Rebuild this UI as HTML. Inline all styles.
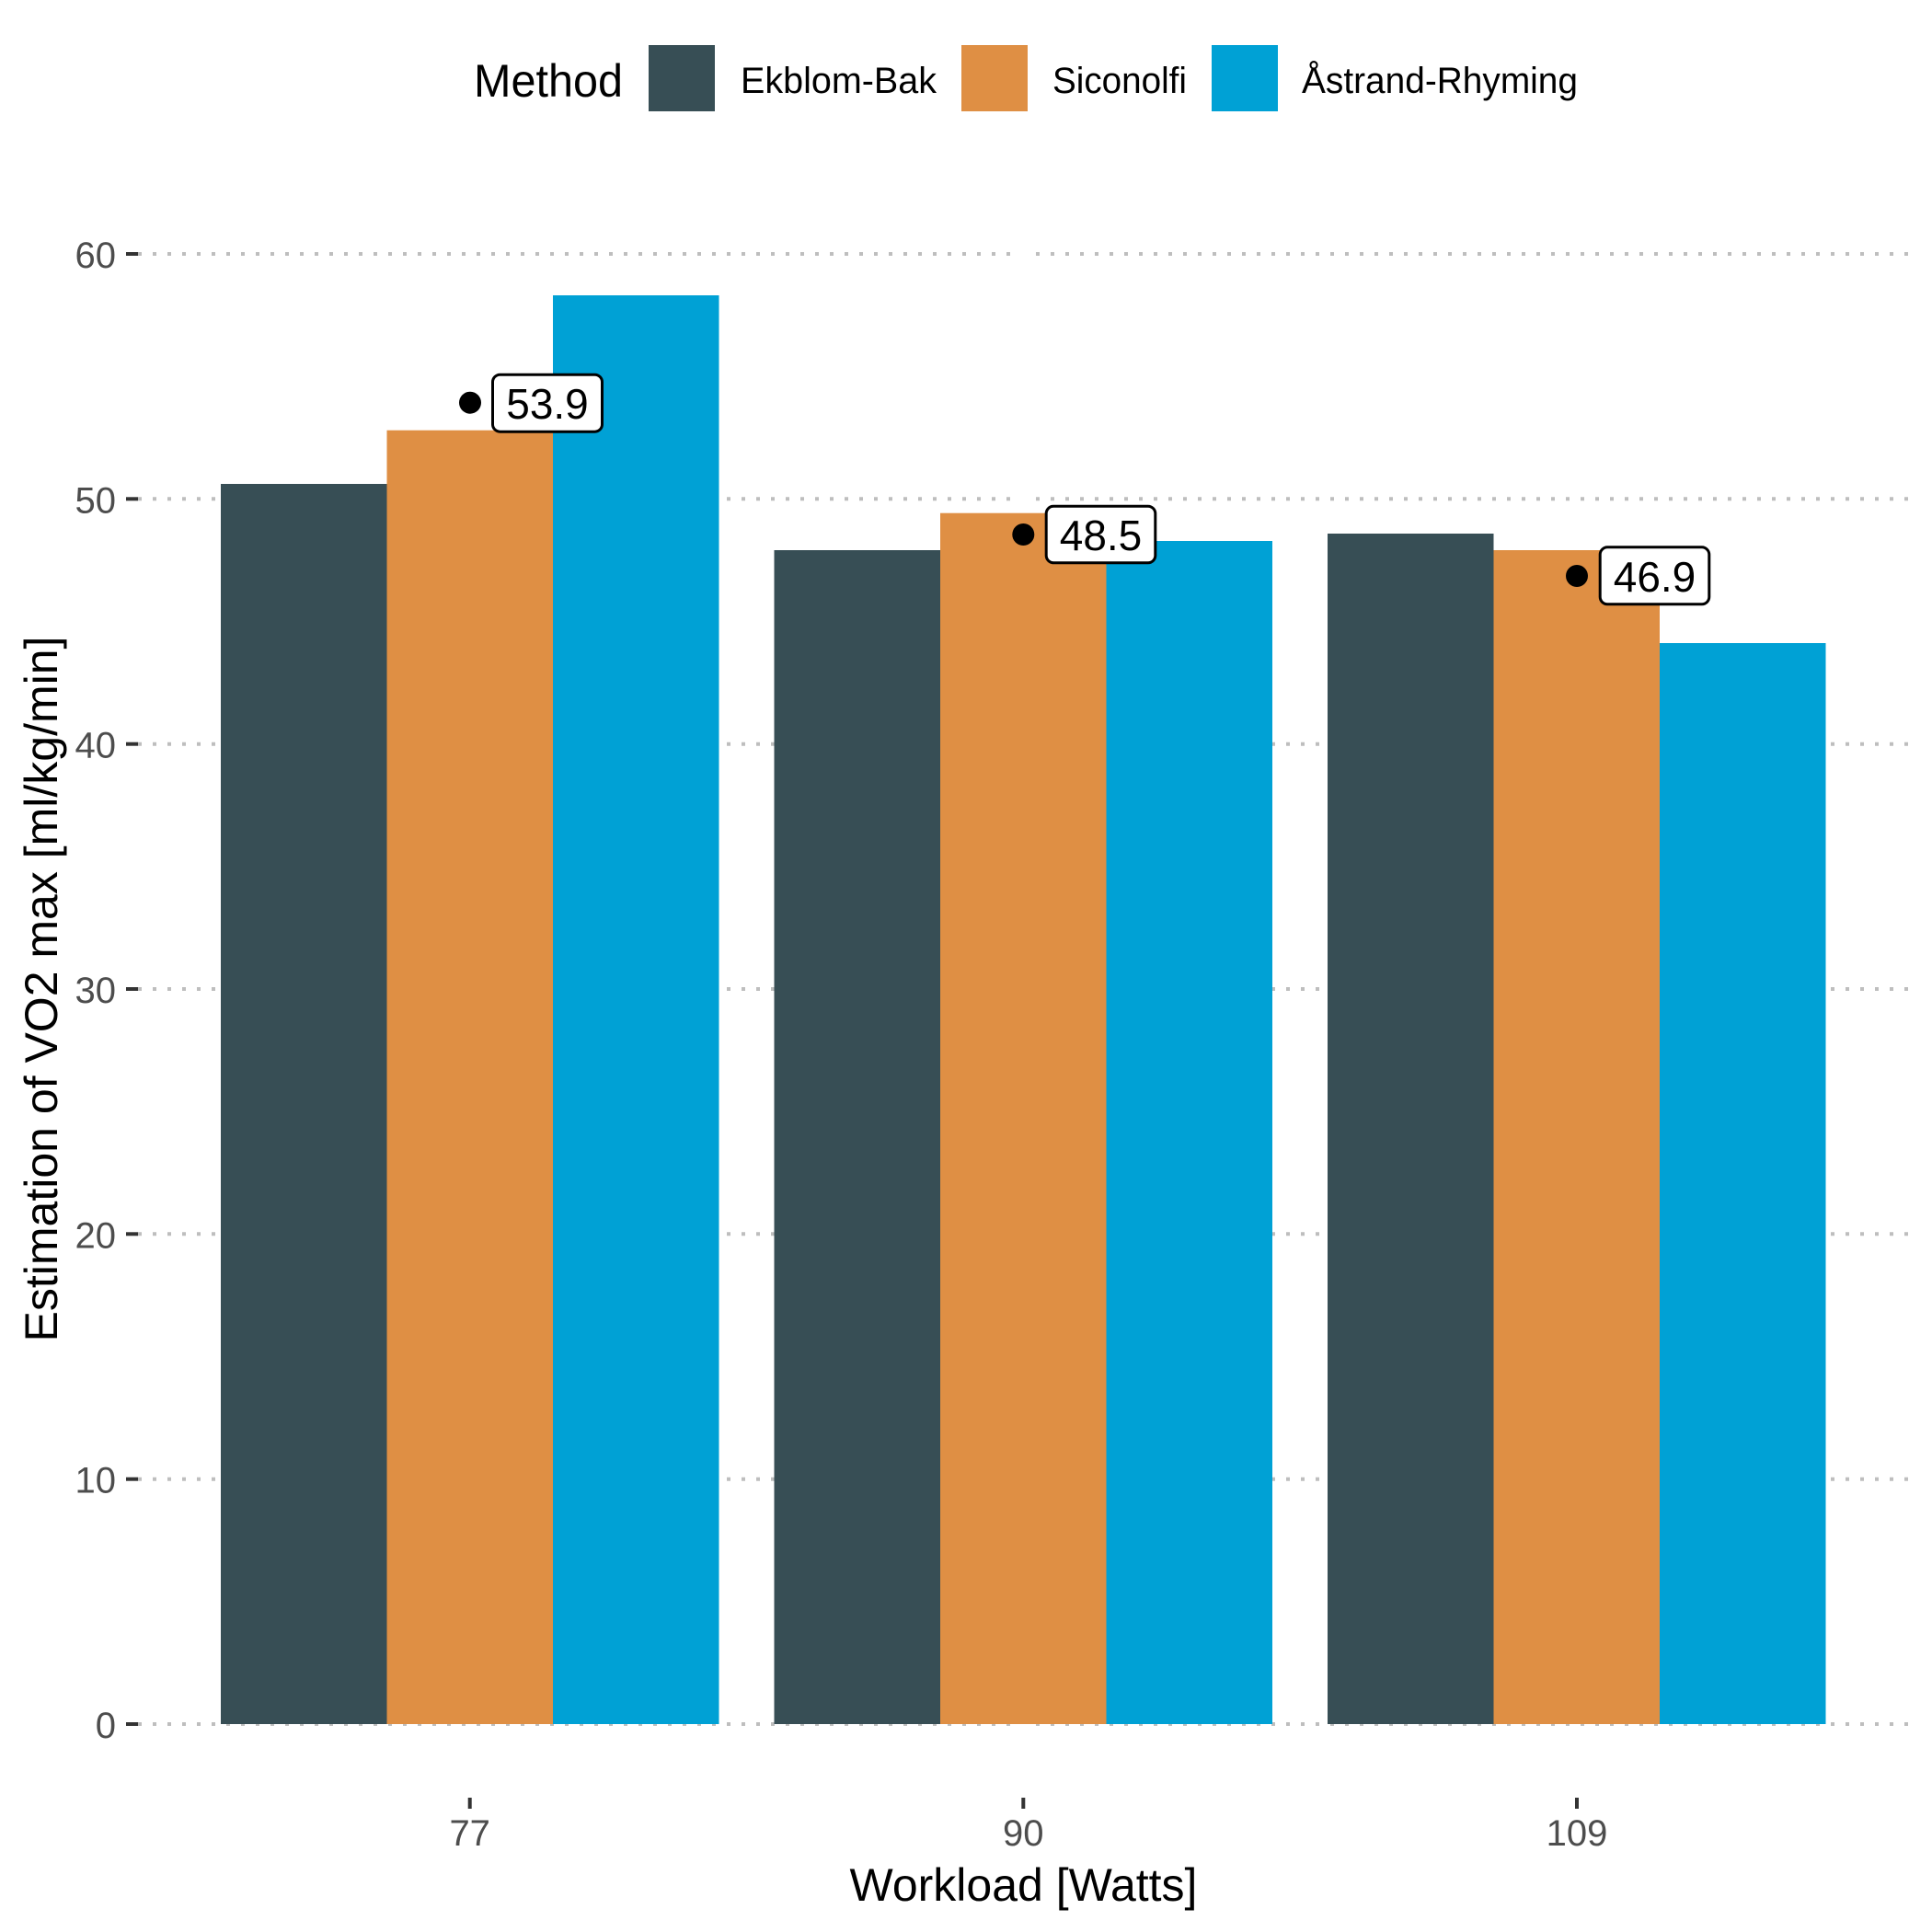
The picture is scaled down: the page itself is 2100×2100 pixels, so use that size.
<!DOCTYPE html>
<html>
<head>
<meta charset="utf-8">
<style>
  html, body { margin: 0; padding: 0; background: #ffffff; }
  svg { display: block; }
  text { font-family: "Liberation Sans", Arial, sans-serif; }
</style>
</head>
<body>
<svg width="2100" height="2100" viewBox="0 0 2100 2100" xmlns="http://www.w3.org/2000/svg">
  <rect x="0" y="0" width="2100" height="2100" fill="#ffffff"/>

  <!-- Legend -->
  <text x="515" y="105" font-size="50" fill="#000000" textLength="162" lengthAdjust="spacingAndGlyphs">Method</text>
  <rect x="705" y="49" width="72" height="72" fill="#374E55"/>
  <text x="805" y="101" font-size="40" fill="#000000" textLength="213" lengthAdjust="spacingAndGlyphs">Ekblom-Bak</text>
  <rect x="1045" y="49" width="72" height="72" fill="#DF8F44"/>
  <text x="1144" y="101" font-size="40" fill="#000000" textLength="146" lengthAdjust="spacingAndGlyphs">Siconolfi</text>
  <rect x="1317" y="49" width="72" height="72" fill="#00A1D5"/>
  <text x="1415" y="101" font-size="40" fill="#000000" textLength="300" lengthAdjust="spacingAndGlyphs">Åstrand-Rhyming</text>

  <!-- Gridlines (dotted) -->
  <g stroke="#bebebe" stroke-width="4" stroke-dasharray="4 12" fill="none">
    <line x1="150" y1="1874" x2="1108" y2="1874"/><line x1="1126" y1="1874" x2="2075" y2="1874"/>
    <line x1="150" y1="1607.7" x2="1108" y2="1607.7"/><line x1="1126" y1="1607.7" x2="2075" y2="1607.7"/>
    <line x1="150" y1="1341.3" x2="1108" y2="1341.3"/><line x1="1126" y1="1341.3" x2="2075" y2="1341.3"/>
    <line x1="150" y1="1075" x2="1108" y2="1075"/><line x1="1126" y1="1075" x2="2075" y2="1075"/>
    <line x1="150" y1="808.7" x2="1108" y2="808.7"/><line x1="1126" y1="808.7" x2="2075" y2="808.7"/>
    <line x1="150" y1="542.3" x2="1108" y2="542.3"/><line x1="1126" y1="542.3" x2="2075" y2="542.3"/>
    <line x1="150" y1="276" x2="1108" y2="276"/><line x1="1126" y1="276" x2="2075" y2="276"/>
  </g>

  <!-- Bars -->
  <g>
    <rect x="240" y="526" width="180.5" height="1348" fill="#374E55"/>
    <rect x="420.5" y="467.7" width="180.5" height="1406.3" fill="#DF8F44"/>
    <rect x="601" y="321" width="180.5" height="1553" fill="#00A1D5"/>

    <rect x="841.5" y="598" width="180.5" height="1276" fill="#374E55"/>
    <rect x="1022" y="557.7" width="180.5" height="1316.3" fill="#DF8F44"/>
    <rect x="1202.5" y="588" width="180.5" height="1286" fill="#00A1D5"/>

    <rect x="1443" y="580" width="180.5" height="1294" fill="#374E55"/>
    <rect x="1623.5" y="598" width="180.5" height="1276" fill="#DF8F44"/>
    <rect x="1804" y="699" width="180.5" height="1175" fill="#00A1D5"/>
  </g>

  <!-- Points -->
  <circle cx="511" cy="437.7" r="12" fill="#000000"/>
  <circle cx="1112.3" cy="581" r="12" fill="#000000"/>
  <circle cx="1714" cy="626" r="12" fill="#000000"/>

  <!-- Labels -->
  <rect x="535.5" y="407.2" width="119" height="62" rx="8" ry="8" fill="#ffffff" stroke="#000000" stroke-width="3"/>
  <text x="595" y="455" font-size="46" fill="#000000" text-anchor="middle">53.9</text>
  <rect x="1137.2" y="550.2" width="118.6" height="61.6" rx="8" ry="8" fill="#ffffff" stroke="#000000" stroke-width="3"/>
  <text x="1196.5" y="598" font-size="46" fill="#000000" text-anchor="middle">48.5</text>
  <rect x="1739.2" y="594.8" width="118.6" height="62" rx="8" ry="8" fill="#ffffff" stroke="#000000" stroke-width="3"/>
  <text x="1798.5" y="643" font-size="46" fill="#000000" text-anchor="middle">46.9</text>

  <!-- Y axis ticks -->
  <g stroke="#333333" stroke-width="4">
    <line x1="137" y1="1874" x2="150" y2="1874"/>
    <line x1="137" y1="1607.7" x2="150" y2="1607.7"/>
    <line x1="137" y1="1341.3" x2="150" y2="1341.3"/>
    <line x1="137" y1="1075" x2="150" y2="1075"/>
    <line x1="137" y1="808.7" x2="150" y2="808.7"/>
    <line x1="137" y1="542.3" x2="150" y2="542.3"/>
    <line x1="137" y1="276" x2="150" y2="276"/>
  </g>
  <g font-size="40" fill="#4d4d4d" text-anchor="end">
    <text x="126" y="1889">0</text>
    <text x="126" y="1622.7">10</text>
    <text x="126" y="1356.3">20</text>
    <text x="126" y="1090">30</text>
    <text x="126" y="823.7">40</text>
    <text x="126" y="557.3">50</text>
    <text x="126" y="291">60</text>
  </g>

  <!-- X axis ticks -->
  <g stroke="#333333" stroke-width="4">
    <line x1="510.7" y1="1954" x2="510.7" y2="1966"/>
    <line x1="1112.3" y1="1954" x2="1112.3" y2="1966"/>
    <line x1="1714" y1="1954" x2="1714" y2="1966"/>
  </g>
  <g font-size="40" fill="#4d4d4d" text-anchor="middle">
    <text x="510.7" y="2006">77</text>
    <text x="1112.3" y="2006">90</text>
    <text x="1714" y="2006">109</text>
  </g>

  <!-- Axis titles -->
  <text x="1112.5" y="2066" font-size="50" fill="#000000" text-anchor="middle">Workload [Watts]</text>
  <text transform="translate(62,1075) rotate(-90)" font-size="50" fill="#000000" text-anchor="middle">Estimation of VO2 max [ml/kg/min]</text>
</svg>
</body>
</html>
